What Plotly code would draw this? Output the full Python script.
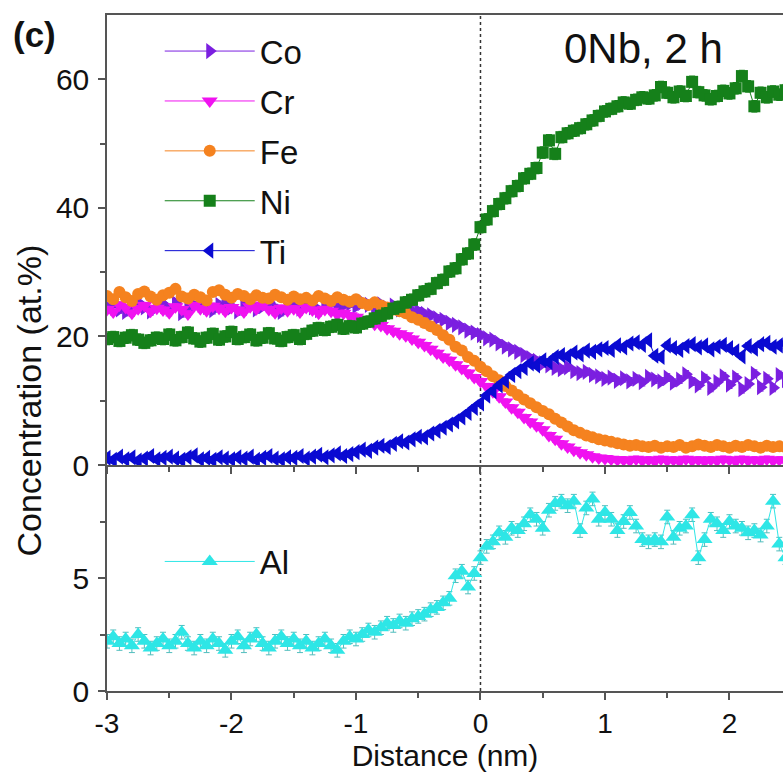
import numpy as np
import plotly.graph_objects as go

# Distance grid (nm), sampled every 0.05 nm
distance = np.round(np.arange(-3.0, 2.4501, 0.05), 2)

co = [24.6, 25.1, 24.2, 23.8, 24.9, 25.3, 24.5, 23.9, 24.7, 25.0,
      24.3, 25.2, 23.6, 24.4, 24.8, 25.4, 24.6, 24.1, 24.9, 25.2,
      24.5, 23.9, 24.8, 25.1, 24.2, 24.7, 25.3, 24.4, 23.8, 24.6,
      25.0, 24.3, 24.9, 24.5, 24.1, 24.8, 25.2, 24.6, 24.9, 25.1,
      24.7, 25.3, 24.9, 24.6, 25.0, 24.4, 24.8, 24.2, 24.6, 24.0,
      23.9, 23.5, 23.3, 22.8, 22.6, 22.1, 21.8, 21.4, 20.9, 20.6,
      20.2, 19.7, 19.5, 18.9, 18.4, 18.0, 17.6, 17.1, 16.6, 16.2,
      15.8, 15.5, 15.1, 14.9, 15.2, 14.6, 14.3, 14.5, 14.0, 13.8,
      13.4, 13.6, 13.1, 13.5, 13.0, 13.4, 12.9, 13.7, 13.3, 13.0,
      13.6, 12.8, 13.3, 14.1, 13.0, 12.4, 13.5, 12.0, 12.9, 13.8,
      12.5, 13.6, 11.8, 12.6, 14.2, 12.1, 13.4, 12.0, 14.0, 13.2]

cr = [24.2, 23.8, 24.9, 24.5, 23.6, 24.3, 24.8, 23.9, 24.4, 24.1,
      23.7, 24.6, 24.2, 23.5, 24.8, 24.3, 24.0, 24.7, 24.4, 23.9,
      24.5, 24.1, 23.8, 24.6, 24.3, 24.9, 24.2, 23.7, 24.4, 24.0,
      24.3, 23.8, 24.5, 24.1, 23.6, 24.2, 23.9, 23.4, 23.6, 23.2,
      23.0, 22.6, 22.5, 21.9, 21.7, 21.2, 20.8, 20.4, 20.1, 19.6,
      19.1, 18.6, 18.0, 17.4, 16.8, 16.3, 15.6, 15.0, 14.3, 13.6,
      13.0, 12.2, 11.4, 10.6, 9.8, 8.9, 8.2, 7.4, 6.7, 6.1,
      5.5, 4.6, 4.0, 3.3, 2.8, 2.3, 1.9, 1.6, 1.3, 1.1,
      1.0, 0.9, 0.8, 0.8, 0.7, 0.9, 0.7, 0.8, 0.6, 0.9,
      0.7, 0.8, 0.6, 0.9, 0.7, 0.8, 0.6, 0.8, 0.7, 0.9,
      0.8, 0.6, 0.9, 0.7, 0.8, 0.6, 0.9, 0.7, 0.8, 0.7]

fe = [26.3, 25.8, 26.9, 26.1, 25.5, 26.6, 27.0, 26.2, 25.7, 26.4,
      26.8, 27.4, 26.2, 25.9, 26.5, 26.1, 25.6, 26.9, 27.2, 26.5,
      26.0, 26.6, 26.3, 25.8, 26.4, 26.0, 25.9, 26.5, 26.1, 25.7,
      26.2, 25.8, 26.0, 25.6, 26.3, 25.9, 25.5, 26.1, 25.7, 25.4,
      25.8, 25.2, 24.9, 25.3, 24.8, 24.5, 24.2, 23.9, 23.6, 23.0,
      22.6, 22.1, 21.6, 21.0, 20.2, 19.5, 18.4, 17.8, 16.8, 16.2,
      15.3, 14.6, 13.8, 13.2, 12.3, 11.6, 10.9, 10.2, 9.6, 9.0,
      8.4, 7.9, 7.2, 6.6, 6.0, 5.4, 5.0, 4.6, 4.3, 4.0,
      3.8, 3.6, 3.4, 3.2, 3.0, 3.1, 2.9, 2.8, 3.0, 2.7,
      2.9, 2.8, 3.1, 2.7, 2.9, 3.2, 3.0, 2.8, 3.1, 2.9,
      2.7, 3.0, 2.8, 3.1, 2.9, 2.7, 3.0, 2.8, 2.9, 2.8]

ni = [19.6, 19.9, 19.3, 19.8, 20.2, 19.5, 19.0, 19.4, 19.8, 19.6,
      20.3, 19.4, 19.9, 20.6, 19.7, 19.2, 19.8, 20.4, 19.5, 20.0,
      20.7, 19.6, 19.9, 20.3, 19.4, 19.8, 20.5, 19.7, 19.3, 19.9,
      20.2, 19.6, 20.4, 20.9, 21.3, 21.0, 21.5, 21.8, 21.2, 21.6,
      21.4, 22.0, 22.3, 22.8, 23.2, 23.6, 24.3, 24.6, 25.3, 25.7,
      26.4, 27.0, 27.4, 28.3, 28.8, 30.1, 30.6, 32.0, 32.9, 34.3,
      37.0, 38.2, 39.5, 40.6, 41.5, 42.6, 43.4, 44.6, 45.3, 46.2,
      48.6, 50.5, 48.4, 51.0, 51.6, 52.0, 52.4, 53.0, 53.6, 54.3,
      55.0, 55.4, 55.8, 56.4, 56.2, 56.8, 57.2, 57.0, 57.5, 58.8,
      57.9, 57.2, 58.1, 57.4, 59.6, 58.0, 57.5, 56.9, 57.4, 58.2,
      57.8, 58.6, 60.5, 58.9, 55.8, 57.9, 57.2, 58.1, 57.6, 58.3]

ti = [1.1, 0.8, 1.3, 0.9, 1.2, 0.7, 1.0, 1.4, 0.9, 1.1,
      1.3, 1.0, 0.8, 1.2, 1.5, 0.9, 1.1, 0.8, 1.2, 1.0,
      0.9, 1.2, 1.0, 1.3, 0.8, 1.1, 1.4, 1.0, 0.9, 1.2,
      1.1, 1.4, 1.0, 1.3, 1.6, 1.2, 1.5, 1.8, 1.4, 1.7,
      2.0, 2.4, 2.2, 2.7, 3.0, 2.8, 3.3, 3.7, 3.5, 4.0,
      4.4, 4.3, 4.9, 5.3, 5.8, 6.3, 6.8, 7.4, 8.1, 8.9,
      9.6, 10.8, 11.5, 12.4, 13.1, 14.0, 14.6, 15.1, 15.8, 15.5,
      16.3, 16.0, 16.8, 17.1, 16.9, 17.5, 17.2, 17.8, 17.6, 18.0,
      18.2, 17.9, 18.6, 18.3, 18.9, 19.1, 18.7, 19.4, 17.0, 16.8,
      18.6, 18.2, 17.9, 18.5, 18.8, 18.3, 18.6, 18.0, 18.4, 18.7,
      18.2, 17.7, 16.9, 18.5, 18.1, 18.8, 19.0, 18.4, 18.6, 18.9]

al = [2.2, 2.4, 2.1, 2.3, 2.0, 2.5, 2.2, 1.9, 2.1, 2.3,
      2.0, 2.2, 2.6, 2.1, 1.9, 2.2, 2.0, 2.3, 2.1, 1.8,
      2.2, 2.4, 2.0, 2.3, 2.5, 2.1, 1.9, 2.2, 2.4, 2.1,
      2.3, 2.0, 2.2, 1.9, 2.1, 2.3, 2.0, 1.8, 2.2, 2.4,
      2.3, 2.5, 2.7, 2.6, 2.8, 3.0, 2.9, 3.1, 3.0, 3.2,
      3.3, 3.4, 3.6, 3.7, 3.9, 4.1, 5.1, 5.3, 4.6, 5.2,
      5.9, 6.4, 6.6, 7.0, 6.8, 7.2, 7.1, 7.4, 7.8, 7.6,
      7.2, 8.0, 8.3, 8.4, 8.2, 8.4, 7.1, 8.1, 8.5, 7.6,
      7.9, 7.6, 7.1, 7.5, 7.9, 7.3, 6.7, 6.6, 6.7, 6.6,
      7.7, 6.8, 7.2, 7.3, 7.8, 5.9, 6.7, 7.6, 7.4, 7.1,
      7.5, 7.3, 7.2, 7.0, 7.1, 6.9, 7.3, 8.4, 6.5, 5.9]

# uncertainty (at.%) per element
err = {"Co": 0.6, "Cr": 0.5, "Fe": 0.5, "Ni": 0.9, "Ti": 0.5, "Al": 0.3}

top_series = [
    ("Co", co, "#7B1FE0", "triangle-right", 14),
    ("Cr", cr, "#F012F0", "triangle-down", 14),
    ("Fe", fe, "#F5821F", "circle", 12),
    ("Ni", ni, "#15801A", "square", 12),
    ("Ti", ti, "#0A0AD2", "triangle-left", 14),
]

FONT = "Liberation Sans, Arial, sans-serif"
fig = go.Figure()

for i, (name, vals, color, sym, size) in enumerate(top_series):
    fig.add_trace(go.Scatter(
        x=distance, y=vals, name=name, mode="lines+markers",
        xaxis="x", yaxis="y", legend="legend", legendgroup=name,
        line=dict(color=color, width=1),
        marker=dict(color=color, symbol=sym, size=size, line=dict(width=0)),
        error_y=dict(type="constant", value=err[name], color=color, thickness=1, width=3),
    ))

fig.add_trace(go.Scatter(
    x=distance, y=al, name="Al", mode="lines+markers",
    xaxis="x2", yaxis="y2", legend="legend2",
    line=dict(color="#2EE6E6", width=1),
    marker=dict(color="#2EE6E6", symbol="triangle-up", size=14, line=dict(width=0)),
    error_y=dict(type="constant", value=err["Al"], color="#52BDBD", thickness=1, width=3),
))

split = 0.3343
TICKC = "#555555"
axis_common = dict(showline=True, linecolor=TICKC, linewidth=1.5,
                   ticks="outside", tickcolor=TICKC, tickwidth=1.5, ticklen=7,
                   showgrid=False, zeroline=False)
YTICKFONT = dict(family=FONT, size=30, color="#111111")
XTICKFONT = dict(family=FONT, size=28, color="#111111")
minor_x = dict(tickvals=[-2.5, -1.5, -0.5, 0.5, 1.5], ticks="outside", ticklen=5,
               tickcolor=TICKC, tickwidth=1.5)

fig.update_layout(
    width=783, height=772,
    margin=dict(l=107, r=0, t=15, b=81),
    paper_bgcolor="white", plot_bgcolor="white",
    font=dict(family=FONT, color="#111111"),
    xaxis=dict(domain=[0, 1], anchor="y", range=[-3, 2.43], tickvals=[-3, -2, -1, 0, 1, 2],
               showticklabels=False, mirror=True, minor=minor_x, tickfont=XTICKFONT,
               **axis_common),
    yaxis=dict(domain=[split, 1], anchor="x", range=[0, 70], tickvals=[0, 20, 40, 60],
               ticklabelstandoff=3, tickfont=YTICKFONT,
               minor=dict(tickvals=[10, 30, 50], ticks="outside", ticklen=5,
                          tickcolor=TICKC, tickwidth=1.5),
               **axis_common),
    xaxis2=dict(domain=[0, 1], anchor="y2", matches="x", range=[-3, 2.43],
                tickvals=[-3, -2, -1, 0, 1, 2], ticktext=["-3", "-2", "-1", "0", "1", "2"],
                minor=minor_x, tickfont=XTICKFONT,
                title=dict(text="Distance (nm)", font=dict(family=FONT, size=30, color="#111111"),
                           standoff=6),
                **axis_common),
    yaxis2=dict(domain=[0, split], anchor="x2", range=[0, 10], tickvals=[0, 5],
                ticklabelstandoff=3, tickfont=YTICKFONT,
                minor=dict(tickvals=[2.5, 7.5], ticks="outside", ticklen=5,
                           tickcolor=TICKC, tickwidth=1.5),
                **axis_common),
    legend=dict(x=0.078, y=0.988, xanchor="left", yanchor="top", bgcolor="rgba(0,0,0,0)",
                font=dict(family=FONT, size=33, color="#111111"), tracegroupgap=4,
                itemwidth=90),
    legend2=dict(x=0.078, y=0.233, xanchor="left", yanchor="top", bgcolor="rgba(0,0,0,0)",
                 font=dict(family=FONT, size=33, color="#111111"), itemwidth=90),
    showlegend=True,
)

fig.add_shape(type="line", xref="x", yref="paper", x0=0, x1=0, y0=0, y1=1,
              line=dict(color="#333333", width=1.5, dash="3px,3px"), layer="below")

fig.add_annotation(text="Concentration (at.%)", xref="paper", yref="paper",
                   x=-0.115, y=0.43, xanchor="center", yanchor="middle",
                   textangle=-90, showarrow=False,
                   font=dict(family=FONT, size=34, color="#111111"))
fig.add_annotation(text="<b>(c)</b>", xref="paper", yref="paper",
                   x=-0.142, y=1.003, xanchor="left", yanchor="top", showarrow=False,
                   font=dict(family=FONT, size=35, color="#111111"))
fig.add_annotation(text="0Nb, 2 h", xref="paper", yref="paper",
                   x=0.793, y=0.95, xanchor="center", yanchor="middle", showarrow=False,
                   font=dict(family=FONT, size=42, color="#111111"))

fig.write_html("out.html")
